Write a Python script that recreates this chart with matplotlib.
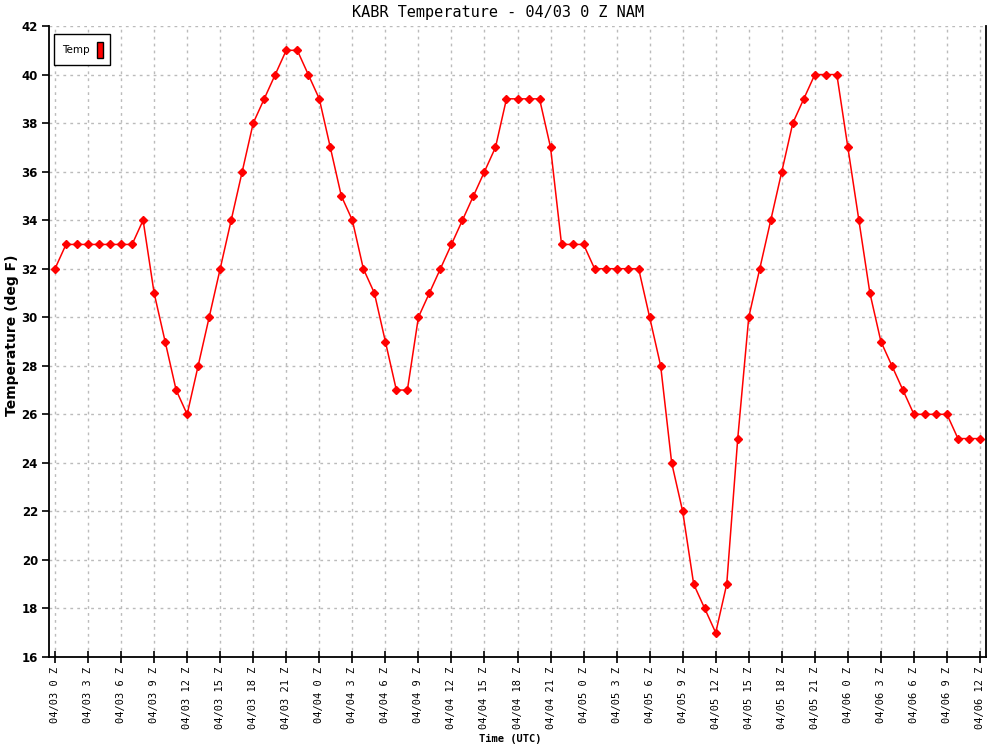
import numpy as np
import matplotlib.pyplot as plt
from matplotlib.patches import Patch

# hourly forecast hours from 04/03 0Z
hours = list(range(0, 85))
temps = [32, 33, 33, 33, 33, 33, 33, 33, 34, 31, 29, 27, 26, 28, 30, 32, 34, 36,
         38, 39, 40, 41, 41, 40, 39, 37, 35, 34, 32, 31, 29, 27, 27, 30, 31, 32,
         33, 34, 35, 36, 37, 39, 39, 39, 39, 37, 33, 33, 33, 32, 32, 32, 32, 32,
         30, 28, 24, 22, 19, 18, 17, 19, 25, 30, 32, 34, 36, 38, 39, 40, 40, 40,
         37, 34, 31, 29, 28, 27, 26, 26, 26, 26, 25, 25, 25]

tick_hours = list(range(0, 85, 3))
tick_labels = []
for h in tick_hours:
    day = 3 + h // 24
    tick_labels.append(f"04/{day:02d} {h % 24} Z")

mono = 'DejaVu Sans Mono'

fig = plt.figure(figsize=(10, 7.5), dpi=100)
ax = fig.add_axes([0.049, 0.124, 0.937, 0.8413])

ax.plot(hours, temps, color='red', linewidth=1.1, marker='D', markersize=4.5,
        markerfacecolor='red', markeredgecolor='red', zorder=3)

ax.set_xlim(-0.545, 84.545)
ax.set_ylim(16, 42)
ax.set_yticks(range(16, 43, 2))
ax.set_xticks(tick_hours)
ax.set_xticklabels(tick_labels, rotation=90, fontfamily=mono, fontsize=7.5)
for lbl in ax.get_yticklabels():
    lbl.set_fontweight('bold')
    lbl.set_fontsize(8.5)

ax.tick_params(axis='y', direction='out', length=5, width=1.2, pad=3)
ax.tick_params(axis='x', direction='inout', length=8, width=1.2, pad=3)

ax.grid(True, color='#bbbbbb', linestyle=(0, (2, 3)), linewidth=1)
ax.set_axisbelow(True)

ax.spines['top'].set_visible(False)
for s in ['left', 'bottom', 'right']:
    ax.spines[s].set_linewidth(1.3)
    ax.spines[s].set_color('black')

fig.text(0.498, 0.983, 'KABR Temperature - 04/03 0 Z NAM', ha='center', va='center',
         fontfamily=mono, fontsize=11)
fig.text(0.012, 0.553, 'Temperature (deg F)', rotation=90, ha='center', va='center',
         fontweight='bold', fontsize=10)
fig.text(0.51, 0.015, 'Time (UTC)', ha='center', va='center',
         fontfamily=mono, fontweight='bold', fontsize=7.5)

handle = Patch(facecolor='red', edgecolor='black', linewidth=1)
leg = ax.legend([handle], ['Temp'], loc='upper left', markerfirst=False,
                handlelength=0.55, handleheight=1.9, handletextpad=0.7,
                borderpad=0.75, fancybox=False, framealpha=1,
                prop={'family': 'DejaVu Sans', 'size': 7.5},
                bbox_to_anchor=(0.0, 0.995))
leg.get_frame().set_edgecolor('black')
leg.get_frame().set_linewidth(1)

fig.savefig('out.png', dpi=100)
